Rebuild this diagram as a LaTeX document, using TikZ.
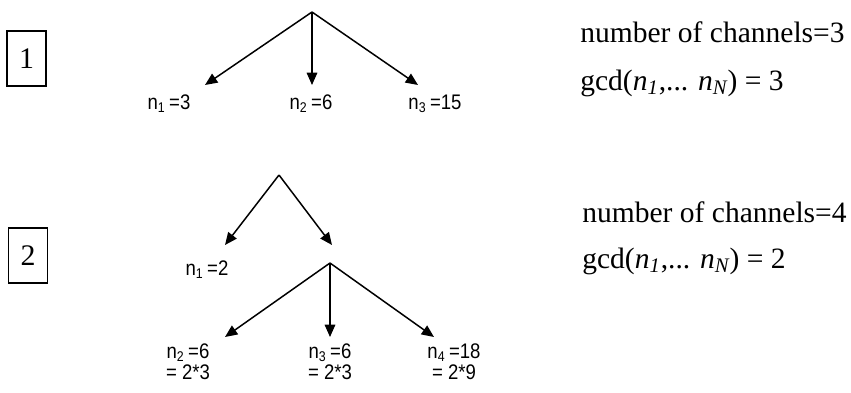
\documentclass[tikz,border=0pt]{standalone}
\usepackage{fontspec}
\setmainfont{Liberation Serif}
\newfontfamily\labelfont[FakeStretch=0.88]{Liberation Sans}
\usetikzlibrary{arrows.meta}

\begin{document}
\begin{tikzpicture}[x=1cm,y=1cm,
  arr/.style={line width=.85pt,-{Triangle[length=7pt,width=6pt]}},
  lbl/.style={font=\labelfont\fontsize{12}{12}\selectfont,align=center,inner sep=0pt},
  txt/.style={font=\fontsize{16.8}{19}\selectfont,anchor=base west,inner sep=0pt},
  numbox/.style={draw,line width=.6pt,minimum width=0.78cm,minimum height=1.10cm,inner sep=0pt,font=\fontsize{17}{19}\selectfont}]
\path[use as bounding box] (0,0) rectangle (17.02,7.84);
% case 1
\node[numbox] (box1) at (0.53,6.67) {1};
\coordinate (top1) at (6.24,7.60);
\coordinate (tip1a) at (4.10,6.14);
\coordinate (tip1b) at (6.24,6.14);
\coordinate (tip1c) at (8.36,6.14);
\draw[arr] (top1) -- (tip1a);
\draw[arr] (top1) -- (tip1b);
\draw[arr] (top1) -- (tip1c);
\node[lbl] (n1a) at (3.38,5.76) {n\textsubscript{1}\,=3};
\node[lbl] (n1b) at (6.22,5.76) {n\textsubscript{2}\,=6};
\node[lbl] (n1c) at (8.70,5.76) {n\textsubscript{3}\,=15};
\node[txt] (chan1) at (11.60,7.00) {number of channels=3};
\node[txt] (gcd1) at (11.60,6.04) {gcd(\textit{n\textsubscript{1}},... \textit{n\textsubscript{N}}) = 3};
% case 2
\node[numbox] (box2) at (0.56,2.73) {2};
\coordinate (top2) at (5.58,4.34);
\coordinate (tip2a) at (4.50,2.94);
\coordinate (tip2b) at (6.64,2.94);
\draw[arr] (top2) -- (tip2a);
\draw[arr] (top2) -- (tip2b);
\node[lbl] (n2a) at (4.14,2.44) {n\textsubscript{1}\,=2};
\coordinate (top3) at (6.60,2.58);
\coordinate (tip3a) at (4.50,1.10);
\coordinate (tip3b) at (6.60,1.10);
\coordinate (tip3c) at (8.68,1.10);
\draw[arr] (top3) -- (tip3a);
\draw[arr] (top3) -- (tip3b);
\draw[arr] (top3) -- (tip3c);
\node[lbl] (n3a) at (3.76,0.60) {n\textsubscript{2}\,=6\\= 2*3};
\node[lbl] (n3b) at (6.60,0.60) {n\textsubscript{3}\,=6\\= 2*3};
\node[lbl] (n3c) at (9.08,0.60) {n\textsubscript{4}\,=18\\= 2*9};
\node[txt] (chan2) at (11.64,3.40) {number of channels=4};
\node[txt] (gcd2) at (11.64,2.48) {gcd(\textit{n\textsubscript{1}},... \textit{n\textsubscript{N}}) = 2};
\end{tikzpicture}
\end{document}
